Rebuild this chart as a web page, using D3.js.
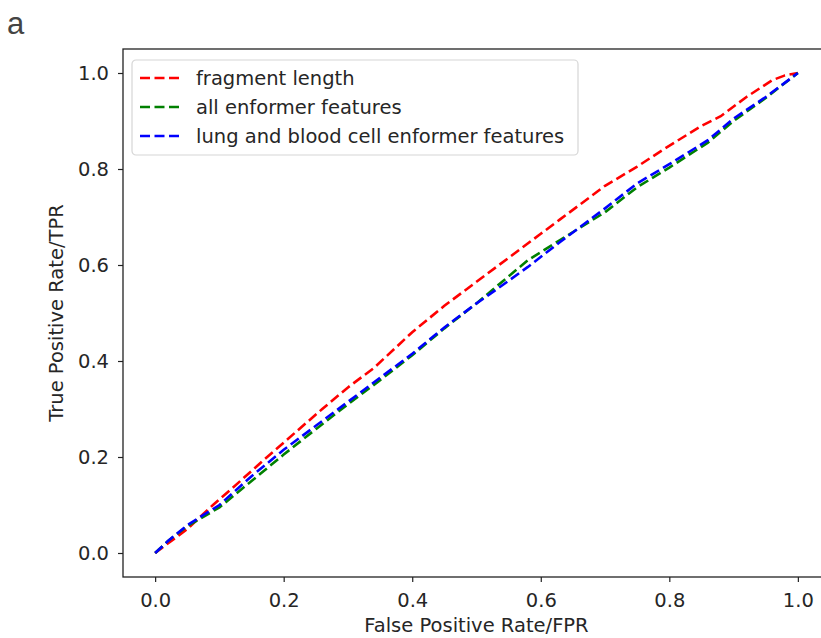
<!DOCTYPE html>
<html>
<head>
<meta charset="utf-8">
<script src="https://cdn.jsdelivr.net/npm/d3@7"></script>
<style>
    body { margin: 0; background: #fff; }
    svg { display: block; }
</style>
</head>
<body>
<div id="chart"></div>
<script>
// ROC curves
const fragFPR = [0, 0.01, 0.05, 0.09, 0.12, 0.17, 0.2, 0.26, 0.3, 0.34, 0.38, 0.4, 0.45, 0.5, 0.55, 0.6, 0.63, 0.66, 0.7, 0.75, 0.79, 0.85, 0.88, 0.92, 0.96, 0.98, 1.0];
const fragTPR = [0, 0.01, 0.05, 0.1, 0.135, 0.195, 0.23, 0.3, 0.345, 0.385, 0.435, 0.46, 0.515, 0.565, 0.615, 0.665, 0.695, 0.725, 0.765, 0.805, 0.84, 0.89, 0.91, 0.95, 0.985, 0.995, 1.0];

const allFPR = [0, 0.02, 0.05, 0.1, 0.15, 0.2, 0.25, 0.3, 0.35, 0.4, 0.45, 0.5, 0.53, 0.58, 0.63, 0.7, 0.75, 0.8, 0.86, 0.9, 0.95, 1.0];
const allTPR = [0, 0.025, 0.056, 0.095, 0.15, 0.205, 0.258, 0.31, 0.36, 0.412, 0.468, 0.52, 0.554, 0.61, 0.652, 0.71, 0.762, 0.803, 0.855, 0.9, 0.948, 1.0];

const lungFPR = [0, 0.02, 0.05, 0.1, 0.15, 0.2, 0.25, 0.3, 0.35, 0.4, 0.45, 0.5, 0.53, 0.58, 0.63, 0.7, 0.75, 0.8, 0.86, 0.9, 0.95, 1.0];
const lungTPR = [0, 0.025, 0.058, 0.1, 0.16, 0.215, 0.265, 0.315, 0.365, 0.415, 0.47, 0.52, 0.548, 0.596, 0.648, 0.718, 0.77, 0.81, 0.86, 0.905, 0.95, 1.0];

const seriesNames = ["fragment length", "all enformer features", "lung and blood cell enformer features"];
const seriesColors = ["#ff0000", "#008000", "#0000ff"];

const tickValues = [0, 0.2, 0.4, 0.6, 0.8, 1.0];

const cfg = {
    width: 821,
    height: 638,
    left: 123,
    right: 830,   // right spine sits just past the window edge
    top: 49,
    bottom: 577,
    font: "'DejaVu Sans', sans-serif",
    fontSize: 19.5,
    text: "#262626"
};

const series = [
    { name: seriesNames[0], color: seriesColors[0], pts: fragFPR.map((v, i) => [v, fragTPR[i]]) },
    { name: seriesNames[1], color: seriesColors[1], pts: allFPR.map((v, i) => [v, allTPR[i]]) },
    { name: seriesNames[2], color: seriesColors[2], pts: lungFPR.map((v, i) => [v, lungTPR[i]]) }
];

const x = d3.scaleLinear().domain([-0.05, 1.05]).range([cfg.left, cfg.right]);
const y = d3.scaleLinear().domain([-0.05, 1.05]).range([cfg.bottom, cfg.top]);

const svg = d3.select("#chart")
    .append("svg")
    .attr("width", cfg.width)
    .attr("height", cfg.height)
    .style("font-family", cfg.font);

// panel letter
svg.append("text")
    .attr("x", 7)
    .attr("y", 34)
    .attr("fill", "#444")
    .style("font-family", "'Liberation Sans', Arial, sans-serif")
    .style("font-size", "31px")
    .text("a");

// curves
const line = d3.line().x(d => x(d[0])).y(d => y(d[1]));

svg.append("g")
    .selectAll("path")
    .data(series)
    .join("path")
    .attr("d", d => line(d.pts))
    .attr("fill", "none")
    .attr("stroke", d => d.color)
    .attr("stroke-width", 2.6)
    .attr("stroke-dasharray", "10,4.5");

// axes
const xAxis = svg.append("g")
    .attr("transform", "translate(0," + cfg.bottom + ")")
    .call(d3.axisBottom(x).tickValues(tickValues).tickFormat(d3.format(".1f")).tickSize(5).tickPadding(11).tickSizeOuter(0));

const yAxis = svg.append("g")
    .attr("transform", "translate(" + cfg.left + ",0)")
    .call(d3.axisLeft(y).tickValues(tickValues).tickFormat(d3.format(".1f")).tickSize(5).tickPadding(9).tickSizeOuter(0));

[xAxis, yAxis].forEach(a => {
    a.selectAll("text")
        .style("font-family", cfg.font)
        .style("font-size", cfg.fontSize + "px")
        .attr("fill", cfg.text);
    a.selectAll("line").attr("stroke", "#222").attr("stroke-width", 1.2);
    a.select(".domain").remove();
});

// spines (top and left/bottom, right is off-canvas)
svg.append("rect")
    .attr("x", cfg.left)
    .attr("y", cfg.top)
    .attr("width", cfg.right - cfg.left)
    .attr("height", cfg.bottom - cfg.top)
    .attr("fill", "none")
    .attr("stroke", "#222")
    .attr("stroke-width", 1.3);

// axis labels
svg.append("text")
    .attr("x", x(0.5))
    .attr("y", 632)
    .attr("text-anchor", "middle")
    .attr("fill", cfg.text)
    .style("font-size", cfg.fontSize + "px")
    .text("False Positive Rate/FPR");

svg.append("text")
    .attr("transform", "translate(63," + y(0.5) + ") rotate(-90)")
    .attr("text-anchor", "middle")
    .attr("fill", cfg.text)
    .style("font-size", cfg.fontSize + "px")
    .text("True Positive Rate/TPR");

// legend
const legend = svg.append("g").attr("transform", "translate(132,60)");

legend.append("rect")
    .attr("width", 446)
    .attr("height", 95)
    .attr("rx", 4)
    .attr("fill", "#fff")
    .attr("fill-opacity", 0.8)
    .attr("stroke", "#d6d6d6")
    .attr("stroke-width", 1.2);

const item = legend.selectAll("g.item")
    .data(series)
    .join("g")
    .attr("class", "item")
    .attr("transform", (d, i) => "translate(0," + (18 + i * 29) + ")");

item.append("line")
    .attr("x1", 8)
    .attr("x2", 48)
    .attr("stroke", d => d.color)
    .attr("stroke-width", 2.6)
    .attr("stroke-dasharray", "10,4.5");

item.append("text")
    .attr("x", 64)
    .attr("dy", "0.35em")
    .attr("fill", cfg.text)
    .style("font-size", cfg.fontSize + "px")
    .text(d => d.name);
</script>
</body>
</html>
